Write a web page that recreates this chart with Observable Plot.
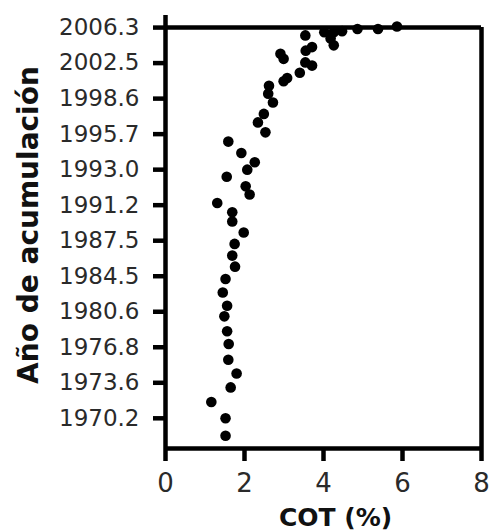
<!DOCTYPE html>
<html>
<head>
<meta charset="utf-8">
<script src="https://cdn.jsdelivr.net/npm/d3@7"></script>
<script src="https://cdn.jsdelivr.net/npm/@observablehq/plot@0.6"></script>
<style>
  html, body { margin: 0; padding: 0; background: #fff; }
  #chart svg { display: block; }
  #chart g[aria-label="y-axis tick label"] text,
  #chart g[aria-label="x-axis tick label"] text { fill: #2a2a2a; }
</style>
</head>
<body>
<div id="chart"></div>
<script>
// Tick labels of the accumulation-year axis (top to bottom, evenly spaced by depth)
const yearLabels = ["2006.3","2002.5","1998.6","1995.7","1993.0","1991.2","1987.5","1984.5","1980.6","1976.8","1973.6","1970.2"];
const yearTickPos = [0,1,2,3,4,5,6,7,8,9,10,11];
const xTicks = [0,2,4,6,8];

// COT (%) values and their position along the year axis (in tick-interval units, 0 = 2006.3)
const cotValues = [5.86,5.38,4.86,4.47,4.26,4.02,4.18,4.26,3.54,3.71,3.55,2.91,2.99,3.54,3.71,3.40,3.08,2.99,2.62,2.60,2.72,2.49,2.34,2.53,1.59,1.92,2.26,2.07,1.55,2.03,2.13,1.31,1.69,1.69,1.98,1.75,1.69,1.76,1.52,1.45,1.56,1.49,1.56,1.60,1.59,1.80,1.65,1.16,1.52,1.52];
const yearPos   = [-0.03,0.04,0.04,0.10,0.13,0.13,0.31,0.50,0.22,0.55,0.65,0.74,0.88,0.98,1.07,1.27,1.42,1.51,1.64,1.86,2.11,2.43,2.67,2.95,3.21,3.53,3.79,4.00,4.20,4.47,4.70,4.94,5.20,5.46,5.77,6.09,6.42,6.73,7.08,7.46,7.83,8.13,8.55,8.91,9.35,9.74,10.13,10.54,11.00,11.49];

const data = cotValues.map((v, i) => ({cot: v, pos: yearPos[i]}));

const yTop = -0.34, yBottom = 11.85, xMin = 0, xMax = 8;
const lw = 4.5;

const chart = Plot.plot({
  width: 490,
  height: 532,
  marginLeft: 165,
  marginRight: 9,
  marginTop: 15,
  marginBottom: 84,
  style: {background: "#fff", color: "#000"},
  x: {domain: [xMin, xMax]},
  y: {domain: [yTop, yBottom], reverse: true},
  marks: [
    // frame: top, bottom, right
    Plot.ruleY([0], {x1: xMin, x2: xMax, stroke: "#000", strokeWidth: lw}),
    Plot.ruleY([yBottom], {x1: xMin, x2: xMax, stroke: "#000", strokeWidth: lw}),
    Plot.ruleX([xMax], {y1: 0, y2: yBottom, stroke: "#000", strokeWidth: lw}),
    // left axis line (extends above the frame)
    Plot.ruleX([xMin], {y1: yTop, y2: yBottom, stroke: "#000", strokeWidth: lw}),
    Plot.axisY({
      ticks: yearTickPos,
      tickFormat: i => yearLabels[i],
      tickSize: 12,
      tickPadding: 14,
      strokeWidth: lw,
      fontSize: 23,
      fontFamily: "DejaVu Sans",
      label: null
    }),
    Plot.axisX({
      ticks: xTicks,
      tickSize: 13,
      tickPadding: 12,
      strokeWidth: lw,
      fontSize: 26,
      fontFamily: "DejaVu Sans",
      label: null
    }),
    Plot.dot(data, {x: "cot", y: "pos", r: 5.3, fill: "#000", stroke: "none"}),
    Plot.text(["COT (%)"], {
      frameAnchor: "bottom", dx: 12, dy: 69,
      fontSize: 25, fontWeight: "bold", fontFamily: "DejaVu Sans",
      fill: "#111", textAnchor: "middle", lineAnchor: "middle"
    }),
    Plot.text(["Año de acumulación"], {
      frameAnchor: "left", dx: -136, dy: -7, rotate: -90,
      fontSize: 28, fontWeight: "bold", fontFamily: "DejaVu Sans",
      fill: "#111", textAnchor: "middle", lineAnchor: "middle"
    })
  ]
});
document.getElementById("chart").appendChild(chart);
</script>
</body>
</html>
